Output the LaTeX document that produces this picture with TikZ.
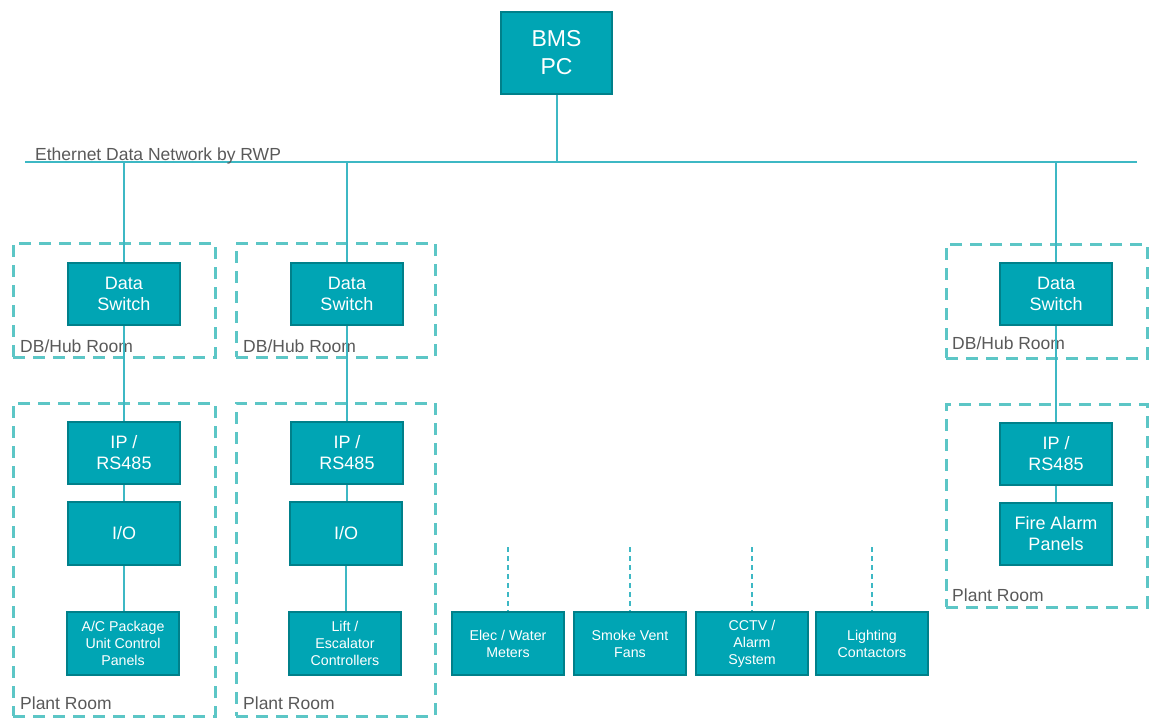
\documentclass[tikz,border=0pt]{standalone}
\usepackage{fontspec}
\setmainfont{Liberation Sans}
\definecolor{boxfill}{HTML}{00A5B4}
\definecolor{boxedge}{HTML}{00808A}
\definecolor{wire}{HTML}{3DB8C4}
\definecolor{roomline}{HTML}{5CC6C6}
\definecolor{labelgray}{HTML}{595959}
\tikzset{
  unitbox/.style={draw=boxedge, fill=boxfill, line width=2.5pt, text=white, align=center, inner sep=0pt,
    minimum width=112, minimum height=62, font=\fontsize{18}{21}\selectfont},
  smallbox/.style={unitbox, font=\fontsize{14.2}{17}\selectfont},
  room/.style={draw=roomline, line width=3pt, dash pattern=on 12pt off 8pt, inner sep=0pt},
  roomlabel/.style={text=labelgray, font=\fontsize{17.5}{20}\selectfont, anchor=west, inner sep=0pt},
  wireline/.style={draw=wire, line width=2pt},
  dashwire/.style={draw=wire, line width=2pt, dash pattern=on 5pt off 4pt}
}
\begin{document}
\begin{tikzpicture}[x=1pt,y=-1pt]
\useasboundingbox (0,0) rectangle (1153,718);
% rooms
\node[room, minimum width=202, minimum height=114] (db1) at (114,300) {};
\node[room, minimum width=199, minimum height=114] (db2) at (335.5,300) {};
\node[room, minimum width=201, minimum height=114] (db3) at (1046.5,301) {};
\node[room, minimum width=202, minimum height=313] (pr1) at (114,559.5) {};
\node[room, minimum width=199, minimum height=313] (pr2) at (335.5,559.5) {};
\node[room, minimum width=201, minimum height=203] (pr3) at (1046.5,505.5) {};
\node[roomlabel] (l1) at (20,346) {DB/Hub Room};
\node[roomlabel] (l2) at (243,346) {DB/Hub Room};
\node[roomlabel] (l3) at (952,343) {DB/Hub Room};
\node[roomlabel] (l4) at (20,703) {Plant Room};
\node[roomlabel] (l5) at (243,703) {Plant Room};
\node[roomlabel] (l6) at (952,595) {Plant Room};
% bus
\coordinate (busL) at (25,162);
\coordinate (busR) at (1137,162);
\draw[wireline] (busL) -- (busR);
\node[roomlabel, anchor=base west] (eth) at (35,160) {Ethernet Data Network by RWP};
% BMS
\node[unitbox, minimum width=111, minimum height=82, font=\fontsize{23}{28}\selectfont] (bms) at (556.5,53) {BMS\\PC};
% column 1
\node[unitbox] (ds1) at (124,294) {Data\\Switch};
\node[unitbox] (ip1) at (124,453) {IP /\\RS485};
\node[unitbox, minimum height=63] (io1) at (124,533.5) {I/O};
\node[smallbox, minimum height=63] (ac1) at (123,643.5) {A/C Package\\Unit Control\\Panels};
% column 2
\node[unitbox] (ds2) at (347,294) {Data\\Switch};
\node[unitbox] (ip2) at (347,453) {IP /\\RS485};
\node[unitbox, minimum height=63] (io2) at (346,533.5) {I/O};
\node[smallbox, minimum height=63] (lift) at (345,643.5) {Lift /\\Escalator\\Controllers};
% column 3
\node[unitbox] (ds3) at (1056,294) {Data\\Switch};
\node[unitbox] (ip3) at (1056,454) {IP /\\RS485};
\node[unitbox] (fire) at (1056,534) {Fire Alarm\\Panels};
% bottom row
\node[smallbox, minimum width=112, minimum height=63] (elec) at (508,643.5) {Elec / Water\\Meters};
\node[smallbox, minimum width=112, minimum height=63] (smoke) at (630,643.5) {Smoke Vent\\Fans};
\node[smallbox, minimum width=112, minimum height=63] (cctv) at (752,643.5) {CCTV /\\Alarm\\System};
\node[smallbox, minimum width=112, minimum height=63] (light) at (872,643.5) {Lighting\\Contactors};
\coordinate (t1) at (508,547);
\coordinate (t2) at (630,547);
\coordinate (t3) at (752,547);
\coordinate (t4) at (872,547);
% connectors
\draw[wireline] (bms.south) -- (bms.south |- busL);
\draw[wireline] (ds1.north |- busL) -- (ds1.north);
\draw[wireline] (ds2.north |- busL) -- (ds2.north);
\draw[wireline] (ds3.north |- busL) -- (ds3.north);
\draw[wireline] (ds1.south) -- (ip1.north);
\draw[wireline] (ds2.south) -- (ip2.north);
\draw[wireline] (ds3.south) -- (ip3.north);
\draw[wireline] (ip1.south) -- (ip1.south |- io1.north);
\draw[wireline] (ip2.south) -- (ip2.south |- io2.north);
\draw[wireline] (ip3.south) -- (fire.north);
\draw[wireline] (io1.south) -- (io1.south |- ac1.north);
\draw[wireline] (io2.south) -- (io2.south |- lift.north);
\draw[dashwire] (t1) -- (elec.north);
\draw[dashwire] (t2) -- (smoke.north);
\draw[dashwire] (t3) -- (cctv.north);
\draw[dashwire] (t4) -- (light.north);
\end{tikzpicture}
\end{document}
